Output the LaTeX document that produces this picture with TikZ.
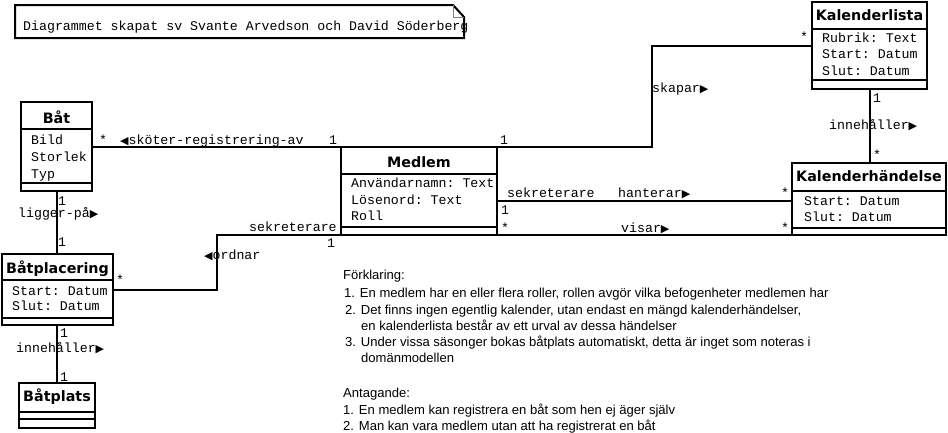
\documentclass[tikz,border=0pt]{standalone}
\usepackage{fontspec}
\setmainfont{Liberation Sans}
\setmonofont{Liberation Mono}
\newfontfamily\titlefont{DejaVu Sans}
\newfontfamily\symfont{DejaVu Sans}
\newcommand\rtri{{\symfont\fontsize{11}{11}\selectfont ▶}}
\newcommand\ltri{{\symfont\fontsize{11}{11}\selectfont ◀}}
\tikzset{
  lbl/.style={font=\ttfamily\fontsize{13.25}{15}\selectfont, inner sep=0, anchor=base west},
  ctitle/.style={font=\titlefont\bfseries\fontsize{14.3}{16}\selectfont, inner sep=0, anchor=base},
  expl/.style={font=\fontsize{13.05}{15}\selectfont, inner sep=0, anchor=base west},
  cls/.style={draw, line width=2pt, inner sep=0, outer sep=0, anchor=north west},
  conn/.style={line width=2pt},
  divider/.style={line width=2pt}
}
\begin{document}
\begin{tikzpicture}[x=1pt,y=-1pt]
\useasboundingbox[fill=white] (0,0) rectangle (948,432);

% note
\draw[line width=2pt] (15,5) -- (453,5) -- (464,17) -- (464,38) -- (15,38) -- cycle;
\draw[line width=1pt, gray] (453,5) -- (453,17) -- (464,17);
\node[lbl] (notetext) at (23,30) {Diagrammet skapat sv Svante Arvedson och David Söderberg};

% classes
\node[cls, minimum width=71, minimum height=89] (bat) at (21,102) {};
\draw[divider] (21,129) -- (92,129);
\draw[divider] (21,183) -- (92,183);
\node[ctitle] (bat-t) at (56.5,123.5) {Båt};
\node[lbl] (bat-a1) at (31,144) {Bild};
\node[lbl] (bat-a2) at (31,161) {Storlek};
\node[lbl] (bat-a3) at (31,178) {Typ};

\node[cls, minimum width=156, minimum height=88] (medlem) at (341,147) {};
\draw[divider] (341,174) -- (497,174);
\draw[divider] (341,227) -- (497,227);
\node[ctitle] (medlem-t) at (419,167) {Medlem};
\node[lbl] (medlem-a1) at (351,187) {Användarnamn: Text};
\node[lbl] (medlem-a2) at (351,204) {Lösenord: Text};
\node[lbl] (medlem-a3) at (351,220) {Roll};

\node[cls, minimum width=111, minimum height=71] (batplac) at (2,254) {};
\draw[divider] (2,280) -- (113,280);
\draw[divider] (2,318) -- (113,318);
\node[ctitle] (batplac-t) at (57.5,273) {Båtplacering};
\node[lbl] (batplac-a1) at (12,295) {Start: Datum};
\node[lbl] (batplac-a2) at (12,310) {Slut: Datum};

\node[cls, minimum width=76, minimum height=45] (batplats) at (19,383) {};
\draw[divider] (19,412) -- (95,412);
\draw[divider] (19,419) -- (95,419);
\node[ctitle] (batplats-t) at (57,401.5) {Båtplats};

\node[cls, minimum width=115, minimum height=87] (kl) at (812,2) {};
\draw[divider] (812,29) -- (927,29);
\draw[divider] (812,80) -- (927,80);
\node[ctitle] (kl-t) at (869.5,20) {Kalenderlista};
\node[lbl] (kl-a1) at (822,42) {Rubrik: Text};
\node[lbl] (kl-a2) at (822,58) {Start: Datum};
\node[lbl] (kl-a3) at (822,75) {Slut: Datum};

\node[cls, minimum width=154, minimum height=72] (kh) at (792,163) {};
\draw[divider] (792,191) -- (946,191);
\draw[divider] (792,228) -- (946,228);
\node[ctitle] (kh-t) at (869,181.7) {Kalenderhändelse};
\node[lbl] (kh-a1) at (804,205) {Start: Datum};
\node[lbl] (kh-a2) at (804,221) {Slut: Datum};

% connectors
\draw[conn] (bat.east) -- (bat.east -| medlem.north west) -- (medlem.north west);
\draw[conn] (bat.south) -- (bat.south |- batplac.north);
\draw[conn] (batplac.south -| batplats.north) -- (batplats.north);
\draw[conn] (medlem.south west) -- ++(-124,0) coordinate (ordbend) |- (batplac.east);
\draw[conn] (medlem.north east) -- ++(155,0) coordinate (skbend) |- (kl.west);
\draw[conn] (kl.south) -- (kl.south |- kh.north);
\draw[conn] (kh.west |- 0,201) -- (medlem.east |- 0,201);
\draw[conn] (medlem.south east) -- (kh.south east);

% labels
\node[lbl] (m1) at (99,144) {*};
\node[lbl] (m2) at (120,144) {\ltri sköter-registrering-av};
\node[lbl] (m3) at (329,144) {1};
\node[lbl] (m4) at (500,144) {1};
\node[lbl] (m5) at (58,205) {1};
\node[lbl] (m6) at (18,217) {ligger-på\rtri};
\node[lbl] (m7) at (58,246) {1};
\node[lbl] (m8) at (249,231) {sekreterare};
\node[lbl] (m9) at (327,247) {1};
\node[lbl] (m10) at (204,259) {\ltri ordnar};
\node[lbl] (m11) at (116,284) {*};
\node[lbl] (m12) at (800,41) {*};
\node[lbl] (m13) at (652,92) {skapar\rtri};
\node[lbl] (m14) at (873,102) {1};
\node[lbl] (m15) at (829,129) {innehåller\rtri};
\node[lbl] (m16) at (873,159) {*};
\node[lbl] (m17) at (507,197) {sekreterare};
\node[lbl] (m18) at (618,197) {hanterar\rtri};
\node[lbl] (m19) at (781,197) {*};
\node[lbl] (m20) at (501,214) {1};
\node[lbl] (m21) at (501,232) {*};
\node[lbl] (m22) at (621,232) {visar\rtri};
\node[lbl] (m23) at (781,232) {*};
\node[lbl] (m24) at (60,337) {1};
\node[lbl] (m25) at (16,352) {innehåller\rtri};
\node[lbl] (m26) at (60,381) {1};

% explanation
\node[expl] (e1) at (343,279) {Förklaring:};
\node[expl] (e2) at (344,297) {1. En medlem har en eller flera roller, rollen avgör vilka befogenheter medlemen har};
\node[expl] (e3) at (345,314) {2. Det finns ingen egentlig kalender, utan endast en mängd kalenderhändelser,};
\node[expl] (e4) at (361,330) {en kalenderlista består av ett urval av dessa händelser};
\node[expl] (e5) at (345,346) {3. Under vissa säsonger bokas båtplats automatiskt, detta är inget som noteras i};
\node[expl] (e6) at (361,362) {domänmodellen};
\node[expl] (e7) at (343,397) {Antagande:};
\node[expl] (e8) at (343,414) {1. En medlem kan registrera en båt som hen ej äger själv};
\node[expl] (e9) at (343,430) {2. Man kan vara medlem utan att ha registrerat en båt};
\end{tikzpicture}
\end{document}
